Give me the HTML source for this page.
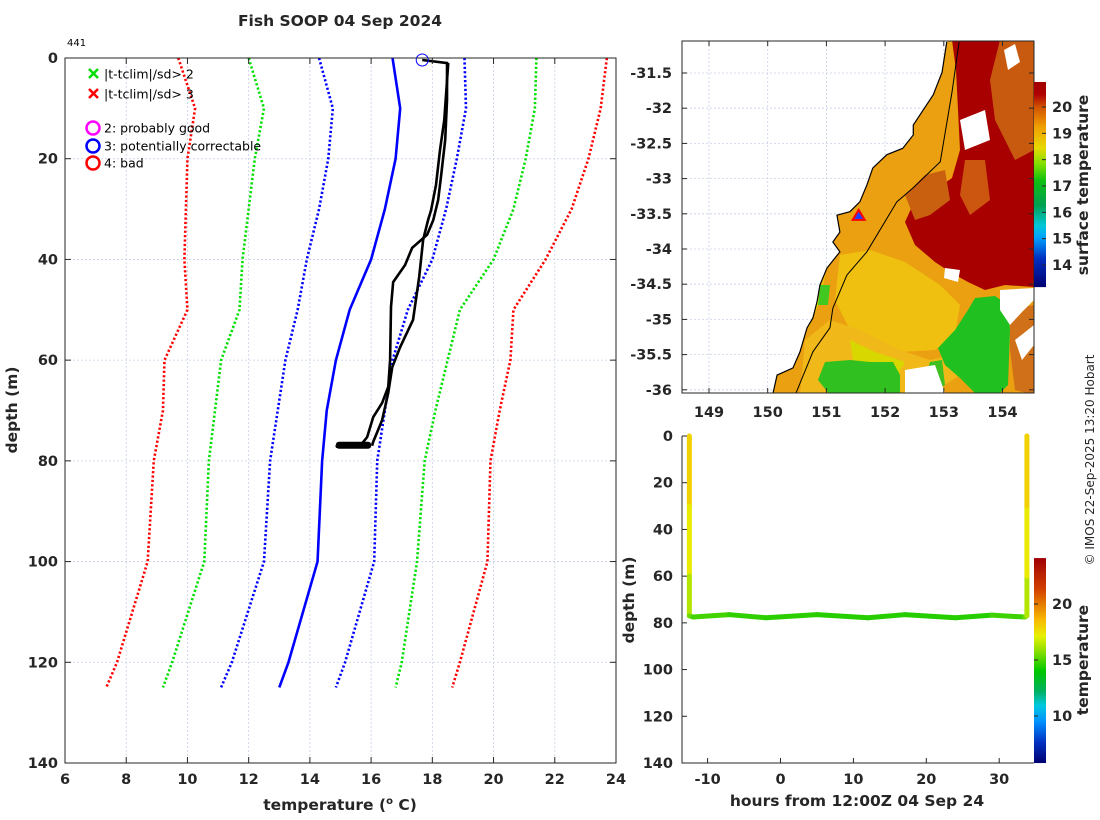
<!DOCTYPE html>
<html><head><meta charset="utf-8">
<style>
html,body{margin:0;padding:0;background:#fff;}
svg{display:block;font-family:"DejaVu Sans","Liberation Sans",sans-serif;}
.tk{font-weight:bold;font-size:14.5px;fill:#262626;}
.lab{font-weight:bold;font-size:15.5px;fill:#262626;}
.leg{font-size:12.5px;fill:#000;font-family:"DejaVu Sans","Liberation Sans",sans-serif;}
</style></head>
<body>
<svg id="fig" width="1100" height="820" viewBox="0 0 1100 820" xmlns="http://www.w3.org/2000/svg">
<defs>
<linearGradient id="sstgrad" x1="0" y1="0" x2="0" y2="1">
<stop offset="0" stop-color="#a00000"/><stop offset="0.06" stop-color="#b00000"/>
<stop offset="0.12" stop-color="#d05000"/><stop offset="0.22" stop-color="#f0a000"/>
<stop offset="0.32" stop-color="#e8d800"/><stop offset="0.40" stop-color="#80e000"/>
<stop offset="0.48" stop-color="#10c010"/><stop offset="0.60" stop-color="#00a050"/>
<stop offset="0.70" stop-color="#00c8d8"/><stop offset="0.76" stop-color="#00a0ff"/>
<stop offset="0.86" stop-color="#0030c0"/><stop offset="1" stop-color="#000070"/>
</linearGradient>
<linearGradient id="tgrad" x1="0" y1="0" x2="0" y2="1">
<stop offset="0" stop-color="#a00000"/><stop offset="0.15" stop-color="#d04000"/>
<stop offset="0.3" stop-color="#f8b800"/><stop offset="0.38" stop-color="#e8f000"/>
<stop offset="0.45" stop-color="#90e000"/><stop offset="0.55" stop-color="#00c800"/>
<stop offset="0.65" stop-color="#00b060"/><stop offset="0.72" stop-color="#00c8e0"/>
<stop offset="0.8" stop-color="#0090ff"/><stop offset="0.9" stop-color="#0030c0"/>
<stop offset="1" stop-color="#000070"/>
</linearGradient>
<clipPath id="mapclip"><rect x="682" y="41" width="352" height="352"/></clipPath>
</defs>
<g id="main"></g>
<g id="map"></g>
<g id="ts"></g>
<text x="340" y="26" text-anchor="middle" class="lab">Fish SOOP 04 Sep 2024</text>
<text x="67" y="46" font-size="10" fill="#000">441</text>
<text transform="translate(1094,460) rotate(-90)" text-anchor="middle" font-size="12" fill="#262626">© IMOS 22-Sep-2025 13:20 Hobart</text>
</svg>
<script>
// ---------- main profile chart data ----------
const climDepths = [0,10,20,30,40,50,60,70,80,100,120,125];
const red3Lo = [9.7,10.25,10.0,9.95,9.9,10.0,9.25,9.2,8.9,8.7,7.7,7.35];
const green2Lo = [12.0,12.5,12.2,12.0,11.8,11.7,11.1,10.9,10.7,10.55,9.5,9.2];
const blueSdLo = [14.3,14.75,14.6,14.3,13.9,13.6,13.2,12.95,12.7,12.5,11.45,11.1];
const climMean = [16.7,16.95,16.8,16.45,16.0,15.3,14.85,14.55,14.4,14.25,13.3,13.0];
const blueSdHi = [19.05,19.1,18.8,18.45,18.0,17.2,16.7,16.45,16.2,16.1,15.15,14.85];
const green2Hi = [21.4,21.35,21.05,20.65,20.0,18.9,18.5,18.1,17.75,17.5,17.0,16.8];
const red3Hi = [23.7,23.5,23.1,22.55,21.7,20.65,20.55,20.2,19.9,19.8,18.9,18.65];
const downDepth = [0.4,1.0,8.3,16.3,23.2,28.2,32.2,35.1,37.7,41.1,44.5,49.4,60.0,65.3,68.5,71.3,75.3,76.5,77.0,76.6,77.2,76.8,77.0];
const downTemp = [17.67,18.48,18.48,18.42,18.29,18.19,18.03,17.83,17.34,17.11,16.72,16.65,16.62,16.56,16.36,16.07,15.87,15.71,15.3,15.0,14.85,15.2,15.6];
const upDepth = [77,76.2,71.9,66.5,61.4,57.4,52.0,43.5,36.1,32.2,30.2,25.2,18.3,12.3,1.0];
const upTemp = [16.03,16.07,16.36,16.56,16.69,16.95,17.37,17.57,17.70,17.86,17.96,18.12,18.25,18.39,18.52];
const xTicks = [6,8,10,12,14,16,18,20,22,24];
const yTicks = [0,20,40,60,80,100,120,140];
const flagTemp = [17.67], flagDepth = [0.4];

// ---------- map data ----------
const coastLon = [153.05,152.97,152.82,152.63,152.48,152.48,152.30,152.03,151.79,151.69,151.57,151.40,151.18,151.23,151.11,151.23,151.01,150.89,150.84,150.77,150.67,150.55,150.43,150.16,150.09];
const coastLat = [-31.06,-31.49,-31.81,-32.05,-32.24,-32.38,-32.57,-32.66,-32.85,-33.09,-33.33,-33.47,-33.52,-33.76,-33.90,-34.04,-34.27,-34.51,-34.75,-34.98,-35.12,-35.46,-35.69,-35.79,-36.05];
const shelfLon = [153.26,153.14,152.94,152.48,152.20,151.69,151.35,151.11,151.06,150.77,150.48];
const shelfLat = [-31.06,-31.77,-32.76,-33.13,-33.33,-34.04,-34.37,-34.84,-35.12,-35.46,-36.05];
const lonTicks = [149,150,151,152,153,154];
const latTicks = [-31.5,-32,-32.5,-33,-33.5,-34,-34.5,-35,-35.5,-36];
const sstTicks = [14,15,16,17,18,19,20];
const shipLon = [151.55], shipLat = [-33.53];

// ---------- depth-time data ----------
const hrs = [-12.5,-12.5,-12.5,-12.5,-12,-7,-2,5,12,17,24,29,33.5,33.8,33.8,33.8,33.8];
const dep = [0,30,60,77,77.5,76.5,77.8,76.5,77.8,76.5,77.8,76.7,77.5,77,60,30,0];
const tmp = [19.0,18.5,17.5,16.5,15.8,15.6,15.4,15.5,15.3,15.5,15.3,15.5,15.8,16.5,17.5,18.5,19.0];
const hrTicks = [-10,0,10,20,30];
const depTicks = [0,20,40,60,80,100,120,140];
const tTicks = [10,15,20];

const NS = "http://www.w3.org/2000/svg";
function mk(parent, tag, attrs){const e=document.createElementNS(NS,tag);for(const k in attrs)e.setAttribute(k,attrs[k]);parent.appendChild(e);return e;}

// ===== main chart =====
const gm = document.getElementById('main');
const X = t => 65 + (t-6)*(551/18);
const Y = d => 58 + d*(705/140);
for (const t of xTicks.slice(1,-1)) {
  const l = mk(gm,'line',{x1:X(t),x2:X(t),y1:58,y2:763,stroke:'#c8d0e8','stroke-width':0.8,'stroke-dasharray':'2,2'});
  
  
}
for (const d of yTicks.slice(1,-1)) {
  const l = mk(gm,'line',{x1:65,x2:616,y1:Y(d),y2:Y(d),stroke:'#c8d0e8','stroke-width':0.8,'stroke-dasharray':'2,2'});
  
  
}
function series(vals, color, dotted, name){
  const pts = vals.map((v,i)=>X(v)+','+Y(climDepths[i])).join(' ');
  const p = mk(gm,'polyline',{points:pts,fill:'none',stroke:color,'stroke-width':2.6,'stroke-dasharray':dotted?'2.2,2.2':'none'});
  
  
}
series(red3Lo,'#ff0000',true,'clim-minus-3sd-line');
series(green2Lo,'#00e000',true,'clim-minus-2sd-line');
series(blueSdLo,'#0000ff',true,'clim-minus-1sd-line');
series(climMean,'#0000ff',false,'clim-mean-line');
series(blueSdHi,'#0000ff',true,'clim-plus-1sd-line');
series(green2Hi,'#00e000',true,'clim-plus-2sd-line');
series(red3Hi,'#ff0000',true,'clim-plus-3sd-line');
const pd = mk(gm,'polyline',{points:downTemp.map((v,i)=>X(v)+','+Y(downDepth[i])).join(' '),fill:'none',stroke:'#000','stroke-width':2.6});


const pu = mk(gm,'polyline',{points:upTemp.map((v,i)=>X(v)+','+Y(upDepth[i])).join(' '),fill:'none',stroke:'#000','stroke-width':2.6});


const bl = mk(gm,'rect',{x:X(14.85),y:Y(77)-4,width:X(16.0)-X(14.85),height:7,rx:3,fill:'#000'});


const fc = mk(gm,'circle',{cx:X(flagTemp[0]),cy:Y(flagDepth[0]),r:6,fill:'none',stroke:'#0000ff','stroke-width':1});


const box = mk(gm,'rect',{x:65,y:58,width:551,height:705,fill:'none',stroke:'#262626','stroke-width':1});


for (const t of xTicks) {
  mk(gm,'line',{x1:X(t),x2:X(t),y1:763,y2:757,stroke:'#262626'});
  mk(gm,'line',{x1:X(t),x2:X(t),y1:58,y2:64,stroke:'#262626'});
  const tx = mk(gm,'text',{x:X(t),y:784,'text-anchor':'middle',class:'tk'}); tx.textContent=t;
  
  
}
for (const d of yTicks) {
  mk(gm,'line',{x1:65,x2:71,y1:Y(d),y2:Y(d),stroke:'#262626'});
  mk(gm,'line',{x1:616,x2:610,y1:Y(d),y2:Y(d),stroke:'#262626'});
  const tx = mk(gm,'text',{x:58,y:Y(d)+5,'text-anchor':'end',class:'tk'}); tx.textContent=d;
  
  
}
const xl = mk(gm,'text',{x:340,y:810,'text-anchor':'middle',class:'lab'});
xl.innerHTML='temperature (<tspan font-size="10" dy="-6">o</tspan><tspan dy="6"> C)</tspan>';


const yl = mk(gm,'text',{transform:'translate(17,410) rotate(-90)','text-anchor':'middle',class:'lab'}); yl.textContent='depth (m)';


// legend
const legItems = [['x','#00dd00','|t-tclim|/sd> 2',74],['x','#ff0000','|t-tclim|/sd> 3',94],['o','#ff00ff','2: probably good',128],['o','#0000ff','3: potentially correctable',146],['o','#ff0000','4: bad',163]];
for (const [m,c,txt,yy] of legItems){
  const g = mk(gm,'g',{});
  
  
  if(m==='x'){mk(g,'path',{d:`M${89},${yy-5}l9,9M${98},${yy-5}l-9,9`,stroke:c,'stroke-width':2.5});}
  else {mk(g,'circle',{cx:93,cy:yy,r:6.5,fill:'none',stroke:c,'stroke-width':2.5});}
  const t=mk(g,'text',{x:104,y:yy+4.5,class:'leg'}); t.textContent=txt;
}

// ===== map =====
const gmap = document.getElementById('map');
const LX = l => 709 + (l-149)*58.7;
const LY = la => 73 + (-31.5-la)*70.4;
const mg = mk(gmap,'g',{'clip-path':'url(#mapclip)'});
for (const l of lonTicks){ mk(mg,'line',{x1:LX(l),x2:LX(l),y1:41,y2:393,stroke:'#c8d0e8','stroke-width':0.8,'stroke-dasharray':'2,2'}); }
for (const l of latTicks){ mk(mg,'line',{x1:682,x2:1034,y1:LY(l),y2:LY(l),stroke:'#c8d0e8','stroke-width':0.8,'stroke-dasharray':'2,2'}); }
const coastPts = coastLon.map((l,i)=>LX(l)+','+LY(coastLat[i]));
const ocean = mk(mg,'polygon',{points:coastPts.join(' ')+' 1034,395 1034,40 '+LX(153.15)+',40',fill:'#eaa010'});


const patches = [
 ['#f0c010','840,255 870,250 905,262 940,285 960,305 955,335 935,350 900,352 870,345 850,330 835,300'],
 ['#f0b818','805,340 830,320 860,330 900,350 930,360 950,355 960,375 930,395 800,395'],
 ['#e8e000','808,330 820,300 826,270 818,300'],
 ['#d8d800','850,340 875,352 905,362 895,380 855,372'],
 ['#a80000','952,40 1034,40 1034,287 1005,285 985,290 968,282 950,272 935,262 915,245 905,222 915,200 935,190 952,178 960,150 958,110 956,70'],
 ['#c85a10','1000,40 1034,40 1034,150 1015,160 995,120 990,80'],
 ['#c86010','905,195 925,175 945,170 950,200 930,215 915,220'],
 ['#cc5510','965,160 985,160 990,200 970,215 960,195'],
 ['#20c020','975,298 995,296 1008,305 1010,330 1008,385 1000,393 975,393 960,378 945,365 938,348 955,330 968,310'],
 ['#30c020','825,362 850,360 870,362 893,362 900,375 900,395 830,395 818,380'],
 ['#40c020','930,362 942,360 945,385 935,392 925,378'],
 ['#40c820','820,285 830,285 828,305 818,305'],
 ['#d07018','1010,310 1034,305 1034,395 1015,390 1010,350'],
 ['#ffffff','905,370 935,365 945,393 905,393'],
 ['#ffffff','1000,290 1034,288 1034,300 1022,312 1010,325 1000,310'],
 ['#ffffff','1015,340 1034,325 1034,345 1022,360'],
 ['#ffffff','960,120 985,110 990,140 965,150'],
 ['#ffffff','1004,50 1015,44 1020,62 1008,70'],
 ['#ffffff','945,268 960,270 958,282 944,278']
];
for (const [c,p] of patches){
  const e = mk(mg,'polygon',{points:p,fill:c});
  
  
}
const coast = mk(mg,'polyline',{points:coastPts.join(' '),fill:'none',stroke:'#000','stroke-width':1.2});


const shelf = mk(mg,'polyline',{points:shelfLon.map((l,i)=>LX(l)+','+LY(shelfLat[i])).join(' '),fill:'none',stroke:'#000','stroke-width':1});


const sx=LX(shipLon[0]), sy=LY(shipLat[0]);
const ship = mk(mg,'polygon',{points:`${sx},${sy-6} ${sx-6},${sy+4} ${sx+6},${sy+4}`,fill:'#2040ff',stroke:'#ff0000','stroke-width':2});


const mframe = mk(gmap,'rect',{x:682,y:41,width:352,height:352,fill:'none',stroke:'#262626'});


for (const l of lonTicks){
  mk(gmap,'line',{x1:LX(l),x2:LX(l),y1:393,y2:388,stroke:'#262626'});
  mk(gmap,'line',{x1:LX(l),x2:LX(l),y1:41,y2:46,stroke:'#262626'});
  const t = mk(gmap,'text',{x:LX(l),y:417,'text-anchor':'middle',class:'tk'}); t.textContent=l;
  
  
}
for (const l of latTicks){
  mk(gmap,'line',{x1:682,x2:687,y1:LY(l),y2:LY(l),stroke:'#262626'});
  mk(gmap,'line',{x1:1034,x2:1029,y1:LY(l),y2:LY(l),stroke:'#262626'});
  const t = mk(gmap,'text',{x:672,y:LY(l)+5,'text-anchor':'end',class:'tk'}); t.textContent=l;
  
  
}
// sst colorbar
const CY = v => 107 + (20-v)*(158/6);
const cb = mk(gmap,'rect',{x:1034,y:CY(20.95),width:12,height:CY(13.16)-CY(20.95),fill:'url(#sstgrad)'});


for (const v of sstTicks){
  mk(gmap,'line',{x1:1042,x2:1046,y1:CY(v),y2:CY(v),stroke:'#262626'});
  const t = mk(gmap,'text',{x:1052,y:CY(v)+5,class:'tk'}); t.textContent=v;
  
  
}
const cbl = mk(gmap,'text',{transform:'translate(1088,185) rotate(-90)','text-anchor':'middle',class:'lab'}); cbl.textContent='surface temperature';



// ===== depth-time chart =====
const gt = document.getElementById('ts');
const HX = h => 780.5 + h*7.29;
const DY = d => 436 + d*(327/140);
const TY = v => 604 + (20-v)*11.2;
function tcol(v){
  const stops=[[6,[0,0,112]],[9,[0,48,192]],[11,[0,144,255]],[12.5,[0,200,224]],[14,[0,176,96]],[15,[0,200,0]],[16.5,[144,224,0]],[17.8,[232,240,0]],[19.5,[248,184,0]],[22,[208,64,0]],[24,[160,0,0]]];
  for(let i=1;i<stops.length;i++){ if(v<=stops[i][0]){const a=stops[i-1],b=stops[i];const f=Math.max(0,(v-a[0])/(b[0]-a[0]));return 'rgb('+a[1].map((c,j)=>Math.round(c+(b[1][j]-c)*f)).join(',')+')';}}
  return 'rgb(160,0,0)';
}
for (let i=0;i<hrs.length-1;i++){
  const s = mk(gt,'line',{x1:HX(hrs[i]),y1:DY(dep[i]),x2:HX(hrs[i+1]),y2:DY(dep[i+1]),stroke:tcol((tmp[i]+tmp[i+1])/2),'stroke-width':5,'stroke-linecap':'round'});
  
  
}
const ax1 = mk(gt,'path',{d:'M682,436V763H1034',fill:'none',stroke:'#262626'});


for (const h of hrTicks){
  mk(gt,'line',{x1:HX(h),x2:HX(h),y1:763,y2:758,stroke:'#262626'});
  const t=mk(gt,'text',{x:HX(h),y:784,'text-anchor':'middle',class:'tk'}); t.textContent=h;
  
  
}
for (const d of depTicks){
  mk(gt,'line',{x1:682,x2:687,y1:DY(d),y2:DY(d),stroke:'#262626'});
  const t=mk(gt,'text',{x:673,y:DY(d)+5,'text-anchor':'end',class:'tk'}); t.textContent=d;
  
  
}
const hl = mk(gt,'text',{x:857,y:806,'text-anchor':'middle',class:'lab'}); hl.textContent='hours from 12:00Z 04 Sep 24';


const dl = mk(gt,'text',{transform:'translate(634,600) rotate(-90)','text-anchor':'middle',class:'lab'}); dl.textContent='depth (m)';


const cb2 = mk(gt,'rect',{x:1034,y:TY(24.1),width:12,height:TY(5.8)-TY(24.1),fill:'url(#tgrad)'});


for (const v of tTicks){
  mk(gt,'line',{x1:1034,x2:1038,y1:TY(v),y2:TY(v),stroke:'#262626'});
  const t=mk(gt,'text',{x:1052,y:TY(v)+5,class:'tk'}); t.textContent=v;
  
  
}
const tl = mk(gt,'text',{transform:'translate(1088,660) rotate(-90)','text-anchor':'middle',class:'lab'}); tl.textContent='temperature';


</script>
</body></html>
